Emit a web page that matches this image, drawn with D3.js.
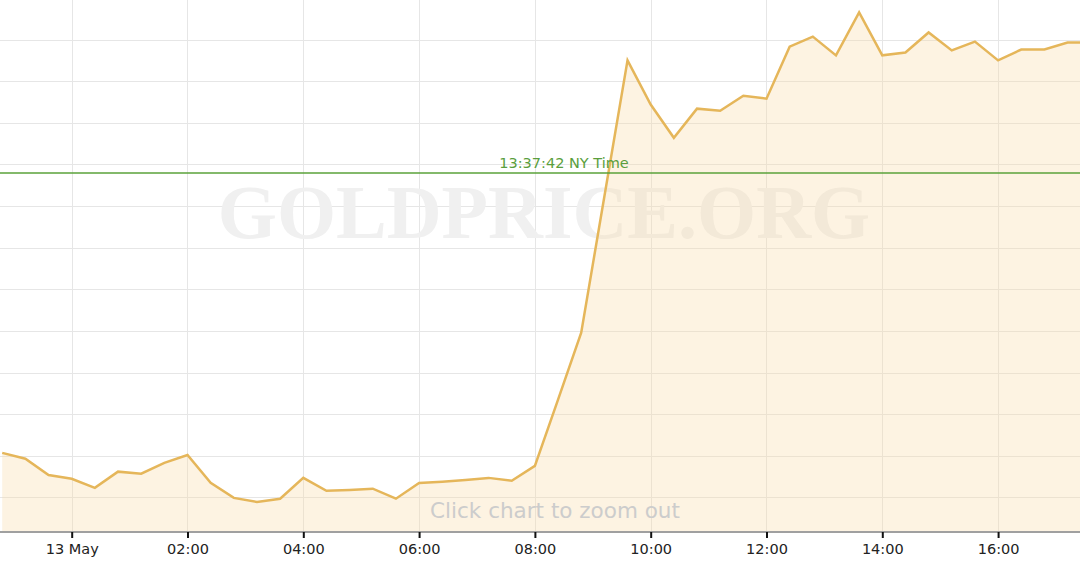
<!DOCTYPE html>
<html>
<head>
<meta charset="utf-8">
<script src="https://cdn.jsdelivr.net/npm/d3@7"></script>
<style>
  html, body { margin: 0; padding: 0; background: #fff; }
  svg { display: block; }
</style>
</head>
<body>
<svg id="chart"></svg>
<script>
// Sampled every 24 minutes, 12 May 22:48 to 13 May 17:36
const times = [
  '2019-05-12 22:48', '2019-05-12 23:12', '2019-05-12 23:36', '2019-05-13 00:00',
  '2019-05-13 00:24', '2019-05-13 00:48', '2019-05-13 01:12', '2019-05-13 01:36',
  '2019-05-13 02:00', '2019-05-13 02:24', '2019-05-13 02:48', '2019-05-13 03:12',
  '2019-05-13 03:36', '2019-05-13 04:00', '2019-05-13 04:24', '2019-05-13 04:48',
  '2019-05-13 05:12', '2019-05-13 05:36', '2019-05-13 06:00', '2019-05-13 06:24',
  '2019-05-13 06:48', '2019-05-13 07:12', '2019-05-13 07:36', '2019-05-13 08:00',
  '2019-05-13 08:24', '2019-05-13 08:48', '2019-05-13 09:12', '2019-05-13 09:36',
  '2019-05-13 10:00', '2019-05-13 10:24', '2019-05-13 10:48', '2019-05-13 11:12',
  '2019-05-13 11:36', '2019-05-13 12:00', '2019-05-13 12:24', '2019-05-13 12:48',
  '2019-05-13 13:12', '2019-05-13 13:36', '2019-05-13 14:00', '2019-05-13 14:24',
  '2019-05-13 14:48', '2019-05-13 15:12', '2019-05-13 15:36', '2019-05-13 16:00',
  '2019-05-13 16:24', '2019-05-13 16:48', '2019-05-13 17:12', '2019-05-13 17:36'
];

const prices = [
  1290.07, 1289.93, 1289.54, 1289.45, 1289.23, 1289.62, 1289.57, 1289.83,
  1290.02, 1289.35, 1288.99, 1288.89, 1288.97, 1289.47, 1289.16, 1289.18,
  1289.21, 1288.97, 1289.35, 1289.38, 1289.42, 1289.47, 1289.40, 1289.76,
  1291.35, 1292.96, 1296.23, 1299.50, 1298.44, 1297.64, 1298.34, 1298.29,
  1298.65, 1298.58, 1299.83, 1300.07, 1299.62, 1300.65, 1299.62, 1299.69,
  1300.17, 1299.74, 1299.95, 1299.50, 1299.76, 1299.76, 1299.93, 1299.93
];

const tickTimes = [
  '2019-05-13 00:00', '2019-05-13 02:00', '2019-05-13 04:00', '2019-05-13 06:00',
  '2019-05-13 08:00', '2019-05-13 10:00', '2019-05-13 12:00', '2019-05-13 14:00',
  '2019-05-13 16:00'
];
const tickLabels = ['13 May', '02:00', '04:00', '06:00', '08:00', '10:00', '12:00', '14:00', '16:00'];

const gridPrices = [1289, 1290, 1291, 1292, 1293, 1294, 1295, 1296, 1297, 1298, 1299, 1300];

const xExtent = ['2019-05-12 22:45:42', '2019-05-13 17:24:53'];
const yExtent = [1288.17, 1300.95];

const nowPrice = 1296.80;
const nowLabel = '13:37:42 NY Time';

const width = 1080;
const height = 564;
const plotBottom = 532;

const parseMin = d3.timeParse('%Y-%m-%d %H:%M');
const parseSec = d3.timeParse('%Y-%m-%d %H:%M:%S');

const data = times.map((t, i) => ({ date: parseMin(t), price: prices[i] }));
const ticks = tickTimes.map(parseMin);

const x = d3.scaleTime()
    .domain(xExtent.map(parseSec))
    .range([0, width]);

const y = d3.scaleLinear()
    .domain(yExtent)
    .range([plotBottom, 0]);

const svg = d3.select('#chart')
    .attr('width', width)
    .attr('height', height)
    .attr('viewBox', [0, 0, width, height]);

// grid
svg.append('g')
    .attr('stroke', '#e6e6e6')
    .attr('stroke-width', 1)
    .selectAll('line')
    .data(gridPrices)
    .join('line')
    .attr('x1', 0)
    .attr('x2', width)
    .attr('y1', d => Math.round(y(d)) + 0.5)
    .attr('y2', d => Math.round(y(d)) + 0.5);

svg.append('g')
    .attr('stroke', '#e6e6e6')
    .attr('stroke-width', 1)
    .selectAll('line')
    .data(ticks)
    .join('line')
    .attr('x1', d => Math.round(x(d)) + 0.5)
    .attr('x2', d => Math.round(x(d)) + 0.5)
    .attr('y1', 0)
    .attr('y2', plotBottom);

// watermark
svg.append('text')
    .attr('x', 544)
    .attr('y', 238)
    .attr('text-anchor', 'middle')
    .attr('font-family', '"Liberation Serif", serif')
    .attr('font-weight', 'bold')
    .attr('font-size', 76)
    .attr('fill', '#f0f0f0')
    .text('GOLDPRICE.ORG');

const area = d3.area()
    .x(d => x(d.date))
    .y0(plotBottom)
    .y1(d => y(d.price));

const line = d3.line()
    .x(d => x(d.date))
    .y(d => y(d.price));

svg.append('path')
    .datum(data)
    .attr('d', area)
    .attr('fill', '#f8d9a6')
    .attr('fill-opacity', 0.32);

svg.append('path')
    .datum(data)
    .attr('d', line)
    .attr('fill', 'none')
    .attr('stroke', '#e5b65a')
    .attr('stroke-width', 2.5)
    .attr('stroke-linejoin', 'miter');

// current time marker
svg.append('line')
    .attr('x1', 0)
    .attr('x2', width)
    .attr('y1', Math.round(y(nowPrice)))
    .attr('y2', Math.round(y(nowPrice)))
    .attr('stroke', '#5aa23a')
    .attr('stroke-width', 1.5);

svg.append('text')
    .attr('x', 564)
    .attr('y', y(nowPrice) - 5)
    .attr('text-anchor', 'middle')
    .attr('font-family', '"DejaVu Sans", sans-serif')
    .attr('font-size', 14.5)
    .attr('fill', '#5a9e3c')
    .text(nowLabel);

svg.append('text')
    .attr('x', 555)
    .attr('y', 518)
    .attr('text-anchor', 'middle')
    .attr('font-family', '"DejaVu Sans", sans-serif')
    .attr('font-size', 21.5)
    .attr('fill', '#cccccc')
    .text('Click chart to zoom out');

// x axis
const xAxis = d3.axisBottom(x)
    .tickValues(ticks)
    .tickFormat((d, i) => tickLabels[i])
    .tickSize(6)
    .tickPadding(6);

const axisG = svg.append('g')
    .attr('transform', `translate(0,${plotBottom})`)
    .call(xAxis);

axisG.select('.domain')
    .attr('stroke', '#a0a0a0')
    .attr('stroke-width', 2)
    .attr('d', `M0,0H${width}`);

axisG.selectAll('.tick line')
    .attr('stroke', '#111')
    .attr('stroke-width', 2);

axisG.selectAll('.tick text')
    .attr('font-family', '"DejaVu Sans", sans-serif')
    .attr('font-size', 14.5)
    .attr('fill', '#222');
</script>
</body>
</html>
